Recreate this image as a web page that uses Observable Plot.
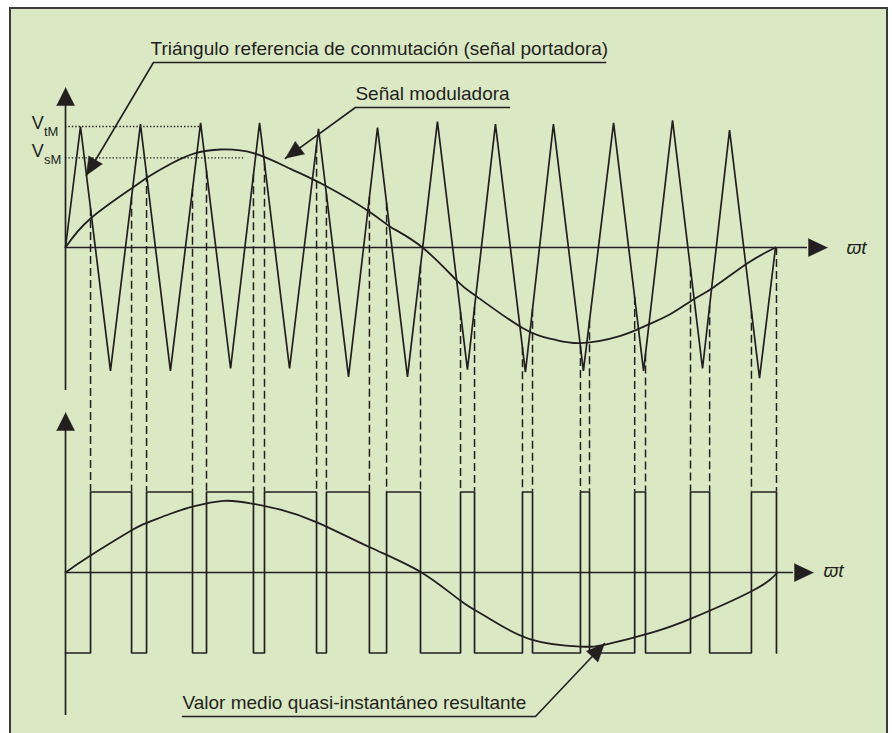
<!DOCTYPE html>
<html><head><meta charset="utf-8">
<script src="https://cdn.jsdelivr.net/npm/d3@7"></script>
<script src="https://cdn.jsdelivr.net/npm/@observablehq/plot@0.6"></script>
<style>
html,body{margin:0;padding:0;background:#fff;}
#wrap{position:relative;width:892px;height:733px;overflow:hidden;}
#frame{position:absolute;left:9px;top:7px;width:879px;height:760px;box-sizing:border-box;border:2px solid #3b3b3b;background:#dae9c4;}
#chart{position:absolute;left:0;top:0;}
</style></head>
<body><div id="wrap"><div id="frame"></div><div id="chart"></div></div>
<script>
// ---------------- data (x in degrees of ωt, y in units of the carrier peak) ----------------
const carrierX = [0, 7.6, 22.8, 38.0, 53.2, 68.5, 83.7, 98.4, 113.6, 128.3, 143.5, 158.2, 173.4,
                  188.6, 203.8, 218.0, 233.2, 247.4, 262.6, 277.9, 293.1, 307.8, 323.0, 336.7, 351.9, 360];
const carrierY = [0, 1.00, -1.02, 1.02, -1.02, 1.03, -1.00, 1.03, -1.00, 0.98, -1.07, 0.99, -1.07,
                  1.04, -1.01, 1.02, -1.03, 1.02, -1.02, 1.03, -1.02, 1.05, -1.00, 0.97, -1.08, 0];

const modX = [0, 12.7, 34.5, 41.6, 53.2, 65.9, 78.6, 95.3, 114.1, 131.8, 154.6, 164.8, 181.0,
              198.8, 208.9, 232.2, 247.4, 261.1, 281.4, 295.1, 306.8, 318.4, 328.5, 345.8, 360];
const modY = [0, 0.24, 0.50, 0.58, 0.69, 0.78, 0.81, 0.78, 0.65, 0.51, 0.29, 0.17, 0,
              -0.28, -0.41, -0.67, -0.76, -0.79, -0.73, -0.64, -0.55, -0.43, -0.33, -0.13, 0];

// bottom panel values, in units of the PWM level
const avgX = [0, 12.7, 34.0, 41.6, 53.2, 64.9, 80.1, 93.8, 109.0, 127.8, 154.6, 180.5,
              200.3, 214.0, 235.8, 261.1, 274.8, 298.1, 318.4, 348.8, 361];
const avgY = [0, 0.21, 0.53, 0.62, 0.73, 0.82, 0.89, 0.86, 0.78, 0.62, 0.31, 0,
              -0.35, -0.56, -0.83, -0.92, -0.89, -0.74, -0.56, -0.22, 0];

const pwmRise = [12.7, 41.1, 71.5, 100.9, 132.3, 162.8, 200.3, 231.7, 261.1, 288.6, 316.9, 347.8];
const pwmFall = [33.5, 64.4, 95.3, 127.3, 154.1, 180.0, 207.4, 236.8, 265.7, 294.1, 326.6, 360.5];

const refNames = ["V", "V"];
const refSubs = ["tM", "sM"];
const refValues = [1.0, 0.74];
const refEnds = [68.5, 91.3];

const captions = ["Triángulo referencia de conmutación (señal portadora)",
                  "Señal moduladora",
                  "Valor medio quasi-instantáneo resultante"];
const axisName = "ϖt";

// ---------------- layout ----------------
const W = 892, H = 733, mL = 65, mR = 117;
const pxPerDeg = (W - mL - mR) / 360;
const pxPerUnit = 121, axisTopPx = 247;
const yDomain = [-(H - axisTopPx) / pxPerUnit, axisTopPx / pxPerUnit];
const BOT_BASE = -325 / 121, BOT_SCALE = 80.5 / 121;
const yb = v => BOT_BASE + v * BOT_SCALE;
const toPx = (x, y) => [mL + x * pxPerDeg, axisTopPx - y * pxPerUnit];
const fromPx = (px, py) => [(px - mL) / pxPerDeg, (axisTopPx - py) / pxPerUnit];
const ink = "#231f20";
const font = "Liberation Sans, Arial, Helvetica, sans-serif";

const carrier = carrierX.map((x, i) => ({x, y: carrierY[i]}));
const mod = modX.map((x, i) => ({x, y: modY[i]}));
const avg = avgX.map((x, i) => ({x, y: yb(avgY[i])}));
const pwm = [{x: 0, y: yb(-1)}];
pwmRise.forEach((r, i) => {
  pwm.push({x: r, y: yb(-1)}, {x: r, y: yb(1)}, {x: pwmFall[i], y: yb(1)}, {x: pwmFall[i], y: yb(-1)});
});
function carrierAt(x) {
  for (let i = 1; i < carrierX.length; i++) {
    if (x <= carrierX[i]) {
      const t = (x - carrierX[i - 1]) / (carrierX[i] - carrierX[i - 1]);
      return carrierY[i - 1] + t * (carrierY[i] - carrierY[i - 1]);
    }
  }
  return 0;
}
const edges = [...pwmRise, ...pwmFall].map(x => ({x, y1: carrierAt(x), y2: yb(1)}));

const refs = refValues.map((v, i) => ({y: v, x2: refEnds[i]}));

// leaders: [underline end, underline start/knee, tip]
const leaders = [
  {id: 0, pts: [[273.9, 1.529], [44.6, 1.529], [10.6, 0.595]]},
  {id: 1, pts: [[225.1, 1.157], [147.0, 1.157], [111.5, 0.736]]},
  {id: 2, pts: [[59.3, -3.876], [238.3, -3.876], [273.3, -3.273]]}
];
const leaderRows = leaders.flatMap(l => l.pts.map(p => ({id: l.id, x: p[0], y: p[1]})));

function head(tip, from, L, w) {
  const [tx, ty] = toPx(...tip), [fx, fy] = toPx(...from);
  const dx = tx - fx, dy = ty - fy, n = Math.hypot(dx, dy), ux = dx / n, uy = dy / n;
  const bx = tx - L * ux, by = ty - L * uy;
  return [[tx, ty], [bx - w * uy, by + w * ux], [bx + w * uy, by - w * ux]].map(p => fromPx(...p));
}
const heads = [
  head([0, 1.322], [0, 0], 18, 9),
  head([386.4, 0], [0, 0], 19, 9),
  head([0, yb(1.988)], [0, BOT_BASE], 18, 9),
  head([379.3, BOT_BASE], [0, BOT_BASE], 19, 9),
  ...leaders.map(l => head(l.pts[2], l.pts[1], 18, 8))
];
const headRows = heads.flatMap((h, id) => h.map(p => ({id, x: p[0], y: p[1]})));

const chart = Plot.plot({
  width: W, height: H,
  marginLeft: mL, marginRight: mR, marginTop: 0, marginBottom: 0,
  x: {domain: [0, 360], axis: null},
  y: {domain: yDomain, axis: null},
  style: {background: "transparent", overflow: "visible"},
  marks: [
    // reference dotted lines
    Plot.ruleY(refs, {y: "y", x1: 0, x2: "x2", stroke: ink, strokeWidth: 1.3, strokeDasharray: "1.4,2"}),
    // axes
    Plot.ruleY([0], {x1: 0, x2: 376.2, stroke: ink, strokeWidth: 1.7}),
    Plot.ruleX([0], {y1: -1.182, y2: 1.174, stroke: ink, strokeWidth: 1.7}),
    Plot.ruleY([BOT_BASE], {x1: 0, x2: 369.1, stroke: ink, strokeWidth: 1.7}),
    Plot.ruleX([0], {y1: yb(-1.776), y2: yb(1.764), stroke: ink, strokeWidth: 1.7}),
    // dashed projections
    Plot.ruleX(edges, {x: "x", y1: "y1", y2: "y2", stroke: ink, strokeWidth: 1.5, strokeDasharray: "8,4"}),
    // carrier & modulating signal
    Plot.line(carrier, {x: "x", y: "y", stroke: ink, strokeWidth: 1.7, strokeLinejoin: "miter"}),
    Plot.line(mod, {x: "x", y: "y", stroke: ink, strokeWidth: 1.8, curve: "natural"}),
    // PWM output and its average
    Plot.line(pwm, {x: "x", y: "y", stroke: ink, strokeWidth: 1.7, strokeLinejoin: "miter"}),
    Plot.line(avg, {x: "x", y: "y", stroke: ink, strokeWidth: 1.8, curve: "natural"}),
    // leaders & arrowheads
    Plot.line(leaderRows, {x: "x", y: "y", z: "id", stroke: ink, strokeWidth: 1.6}),
    Plot.line(headRows, {x: "x", y: "y", z: "id", fill: ink, stroke: ink, strokeWidth: 0.5}),
    // texts
    Plot.text([captions[0]], {x: 43.1, y: 1.643, text: d => d, textAnchor: "start", fontSize: 19, fill: ink, fontFamily: font}),
    Plot.text([captions[1]], {x: 147.0, y: 1.271, text: d => d, textAnchor: "start", fontSize: 19, fill: ink, fontFamily: font}),
    Plot.text([captions[2]], {x: 59.3, y: -3.762, text: d => d, textAnchor: "start", fontSize: 19, fill: ink, fontFamily: font}),
    Plot.text(refNames, {x: -11.0, y: [1.023, 0.793], text: d => d, textAnchor: "end", fontSize: 18, fill: ink, fontFamily: font}),
    Plot.text(refSubs, {x: -10.9, y: [0.960, 0.726], text: d => d, textAnchor: "start", fontSize: 13, fill: ink, fontFamily: font}),
    Plot.text([axisName, axisName], {x: [396.0, 384.3], y: [0, yb(0.02)], text: d => d, textAnchor: "start", fontSize: 19, fontStyle: "italic", fill: ink, fontFamily: font})
  ]
});
document.getElementById("chart").appendChild(chart);
</script>
</body></html>
